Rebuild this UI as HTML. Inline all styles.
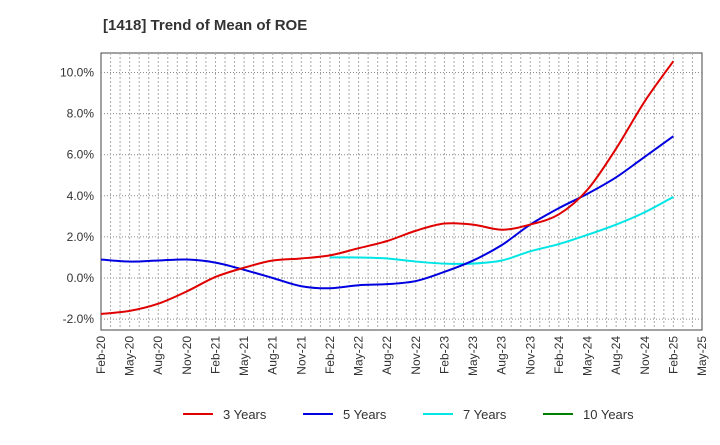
<!DOCTYPE html>
<html><head><meta charset="utf-8"><style>
body{margin:0;background:#fff;font-family:"Liberation Sans",sans-serif}
</style></head><body>
<svg width="720" height="440" xmlns="http://www.w3.org/2000/svg">
<text x="103" y="30" font-size="15" font-weight="bold" fill="#333">[1418]  Trend of Mean of ROE</text>
<rect x="101" y="53" width="601" height="277" fill="#fff" stroke="#444" stroke-width="1"/>
<g id="grid"></g><g id="yt"></g><g id="xt"></g><g id="lines"></g>
<g font-size="13" fill="#333">
<line x1="183" y1="414" x2="213" y2="414" stroke="#e00000" stroke-width="2"/><text x="223" y="419">3 Years</text>
<line x1="303" y1="414" x2="333" y2="414" stroke="#0000e0" stroke-width="2"/><text x="343" y="419">5 Years</text>
<line x1="423" y1="414" x2="453" y2="414" stroke="#00e5e5" stroke-width="2"/><text x="463" y="419">7 Years</text>
<line x1="543" y1="414" x2="573" y2="414" stroke="#008000" stroke-width="2"/><text x="583" y="419">10 Years</text>
</g>
</svg>
<script>
const xLabels=["Feb-20","May-20","Aug-20","Nov-20","Feb-21","May-21","Aug-21","Nov-21","Feb-22","May-22","Aug-22","Nov-22","Feb-23","May-23","Aug-23","Nov-23","Feb-24","May-24","Aug-24","Nov-24","Feb-25","May-25"];
const yTicks=[-2,0,2,4,6,8,10];
const s3=[-1.75,-1.6,-1.25,-0.65,0.05,0.5,0.85,0.95,1.1,1.45,1.8,2.3,2.65,2.6,2.35,2.6,3.1,4.3,6.3,8.6,10.55];
const s5=[0.9,0.8,0.85,0.9,0.75,0.4,0.0,-0.4,-0.5,-0.35,-0.3,-0.15,0.3,0.85,1.6,2.6,3.4,4.1,4.9,5.9,6.9];
const s7=[null,null,null,null,null,null,null,null,1.0,1.0,0.95,0.8,0.7,0.7,0.85,1.3,1.65,2.1,2.6,3.2,3.95];
const ns="http://www.w3.org/2000/svg";
const X=i=>101+i*601/21, Y=v=>278-v*20.55;
function mk(t,a,p){const e=document.createElementNS(ns,t);for(const k in a)e.setAttribute(k,a[k]);p.appendChild(e);return e;}
const g=document.getElementById('grid'),yt=document.getElementById('yt'),xt=document.getElementById('xt'),L=document.getElementById('lines');
yTicks.forEach(v=>{const l=mk('line',{x1:101,x2:702,y1:Y(v),y2:Y(v),stroke:'#888','stroke-dasharray':'1,2'},g);

});
for(let m=1;m<63;m++){const l=mk('line',{x1:X(m/3),x2:X(m/3),y1:53,y2:330,stroke:'#aaa','stroke-dasharray':'2,2'},g);

}
yTicks.forEach(v=>{const t=mk('text',{x:94,y:Y(v)+4,'text-anchor':'end','font-size':12,fill:'#333'},yt);t.textContent=v.toFixed(1)+'%';

});
xLabels.forEach((s,i)=>{const t=mk('text',{transform:`translate(${X(i)+4},336) rotate(-90)`,'text-anchor':'end','font-size':12,fill:'#333'},xt);t.textContent=s;

});
function path(arr,col,name){const p=[];arr.forEach((v,i)=>{if(v!==null)p.push([X(i),Y(v)]);});
let d=`M${p[0][0]},${p[0][1]}`;for(let i=0;i<p.length-1;i++){const p0=p[i-1]||p[i],p1=p[i],p2=p[i+1],p3=p[i+2]||p2;
d+=` C${p1[0]+(p2[0]-p0[0])/6},${p1[1]+(p2[1]-p0[1])/6} ${p2[0]-(p3[0]-p1[0])/6},${p2[1]-(p3[1]-p1[1])/6} ${p2[0]},${p2[1]}`;}
const e=mk('path',{d:d,fill:'none',stroke:col,'stroke-width':2},L);

}
path(s7,'#00e5e5','line-7-years');path(s5,'#0000e0','line-5-years');path(s3,'#e00000','line-3-years');
</script>
</body></html>
